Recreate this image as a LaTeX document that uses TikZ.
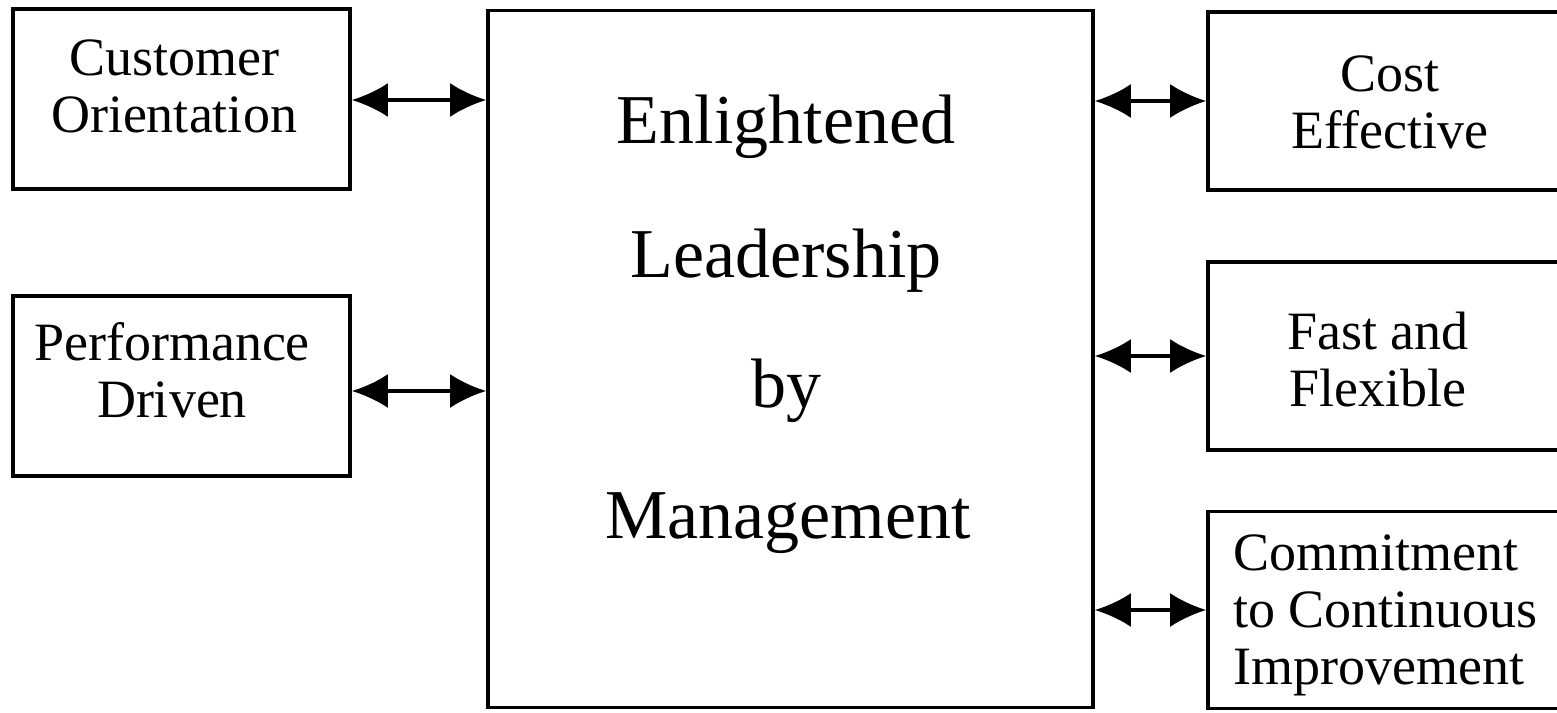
\documentclass[tikz,border=0pt]{standalone}
\usepackage{fontspec}
\setmainfont{Liberation Serif}
\usetikzlibrary{arrows.meta}
\begin{document}
\begin{tikzpicture}[x=1pt,y=-1pt,
  box/.style={draw,line width=3.6pt,inner sep=0pt},
  lbl/.style={font=\fontsize{54}{57}\selectfont,align=center,inner sep=0pt},
  big/.style={font=\fontsize{70}{70}\selectfont,inner sep=0pt,anchor=base},
  link/.style={line width=3.5pt,{Latex[length=36pt,width=34pt]}-{Latex[length=36pt,width=34pt]}}]
\useasboundingbox (0,0) rectangle (1557,712);
\fill[white] (0,0) rectangle (1557,712);
\clip (0,0) rectangle (1557,712);
% boxes
\node[box,minimum width=337pt,minimum height=180pt] (cust) at (181.5,99) {};
\node[box,minimum width=337pt,minimum height=180pt] (perf) at (181.5,386) {};
\node[box,minimum width=605pt,minimum height=697pt] (lead) at (790.5,359) {};
\node[box,minimum width=412pt,minimum height=178pt] (cost) at (1414,101) {};
\node[box,minimum width=412pt,minimum height=188pt] (fast) at (1414,356) {};
\node[box,minimum width=412pt,minimum height=197pt] (comm) at (1414,610) {};
% texts
\node[lbl] (custt) at (174,86) {Customer\\Orientation};
\node[lbl] (perft) at (172,370) {Performance\\Driven};
\node[lbl] (costt) at (1390,102) {Cost\\Effective};
\node[lbl] (fastt) at (1378,360) {Fast and\\Flexible};
\node[lbl,align=left,anchor=west] (commt) at (1233,615) {Commitment\\to Continuous\\Improvement};
\node[big] (l1) at (786,143) {Enlightened};
\node[big] (l2) at (786,277) {Leadership};
\node[big] (l3) at (786,407) {by};
\node[big] (l4) at (788,538) {Management};
% connectors
\draw[link] (cust.east) ++(0,1) coordinate (a1) (a1) -- (a1 -| lead.west);
\draw[link] (perf.east) ++(0,5) coordinate (a2) (a2) -- (a2 -| lead.west);
\draw[link] (lead.east |- cost.west) -- (cost.west);
\draw[link] (lead.east |- fast.west) -- (fast.west);
\draw[link] (lead.east |- comm.west) -- (comm.west);
\end{tikzpicture}
\end{document}
